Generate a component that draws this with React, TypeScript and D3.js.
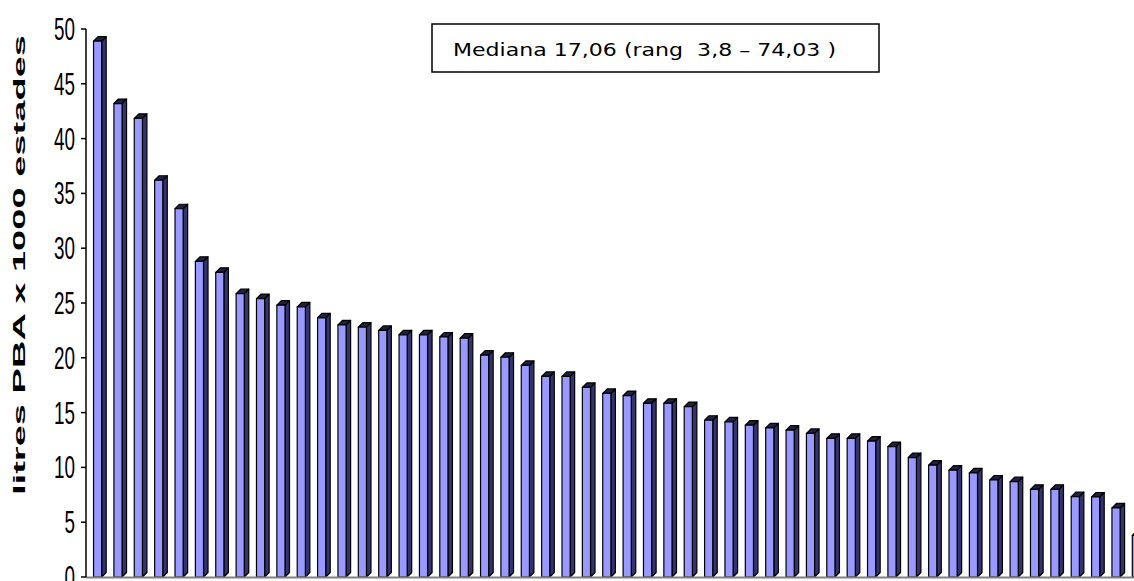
import React from 'react';
import * as d3 from 'd3';

const values: number[] = [
  48.9, 43.2, 41.85, 36.2, 33.6, 28.8, 27.8, 25.85, 25.4, 24.8,
  24.65, 23.65, 23.0, 22.8, 22.5, 22.1, 22.1, 21.9, 21.8, 20.25,
  20.05, 19.3, 18.3, 18.3, 17.3, 16.75, 16.55, 15.85, 15.85, 15.55,
  14.3, 14.15, 13.85, 13.6, 13.4, 13.1, 12.65, 12.65, 12.4, 11.9,
  10.9, 10.2, 9.75, 9.5, 8.85, 8.7, 8.0, 8.0, 7.33, 7.3,
  6.3, 3.8,
];
const categories: string[] = values.map((_, i) => `H${i + 1}`);
const yTickValues: number[] = [0, 5, 10, 15, 20, 25, 30, 35, 40, 45, 50];
const yTitle = 'litres PBA x 1000 estades';
const noteText = 'Mediana 17,06 (rang  3,8 – 74,03 )';

const W = 1134;
const H = 581;

export default function App() {
  const x = d3
    .scaleBand<string>()
    .domain(categories)
    .range([86, 1148])
    .paddingInner(0.6)
    .paddingOuter(0.37);
  const y = d3.scaleLinear().domain([0, 50]).range([577, 29]);
  const bw = x.bandwidth();
  const d = 4.5;
  const y0 = y(0);

  const pts = (arr: [number, number][]) => arr.map((p) => p.join(',')).join(' ');

  return (
    <svg
      width={W}
      height={H}
      style={{ position: 'absolute', left: 0, top: 0, background: '#fff' }}
    >
      <rect x={0} y={0} width={W} height={H} fill="#fff" />
      {values.map((v, i) => {
        const x0 = x(categories[i]) as number;
        const yv = y(v);
        return (
          <g key={i} stroke="#000" strokeWidth={1.2} strokeLinejoin="round">
            <polygon
              points={pts([
                [x0 + bw, yv],
                [x0 + bw + d, yv - d],
                [x0 + bw + d, y0 - d],
                [x0 + bw, y0],
              ])}
              fill="#333370"
            />
            <polygon
              points={pts([
                [x0, yv],
                [x0 + d, yv - d],
                [x0 + bw + d, yv - d],
                [x0 + bw, yv],
              ])}
              fill="#202040"
            />
            <rect x={x0} y={yv} width={bw} height={y0 - yv} fill="#9999ff" />
          </g>
        );
      })}
      <line x1={86} x2={W} y1={y0 + 0.5} y2={y0 + 0.5} stroke="#808080" strokeWidth={2} />
      <line x1={86} x2={86} y1={y(50)} y2={y0} stroke="#000" strokeWidth={1.5} />
      {yTickValues.map((t) => (
        <g key={t}>
          <line x1={81} x2={86} y1={y(t)} y2={y(t)} stroke="#000" strokeWidth={1.5} />
          <text
            transform={`translate(75,${y(t)}) scale(0.92,1.5)`}
            y={7.3}
            textAnchor="end"
            fontFamily="'Liberation Sans', Arial, sans-serif"
            fontSize={20.5}
            fill="#000"
          >
            {t}
          </text>
        </g>
      ))}
      <text
        transform={`translate(25,265) rotate(-90)`}
        textAnchor="middle"
        fontFamily="'Liberation Sans', Arial, sans-serif"
        fontWeight="bold"
        fontSize={16.5}
        textLength={460}
        lengthAdjust="spacingAndGlyphs"
        fill="#000"
        style={{ whiteSpace: 'pre' }}
      >
        {yTitle}
      </text>
      <rect x={432} y={24} width={447} height={48} fill="#fff" stroke="#000" strokeWidth={1.5} />
      <text
        x={453}
        y={56}
        fontFamily="'DejaVu Sans', Verdana, sans-serif"
        fontSize={18}
        textLength={383}
        lengthAdjust="spacingAndGlyphs"
        fill="#000"
        style={{ whiteSpace: 'pre' }}
      >
        {noteText}
      </text>
    </svg>
  );
}
